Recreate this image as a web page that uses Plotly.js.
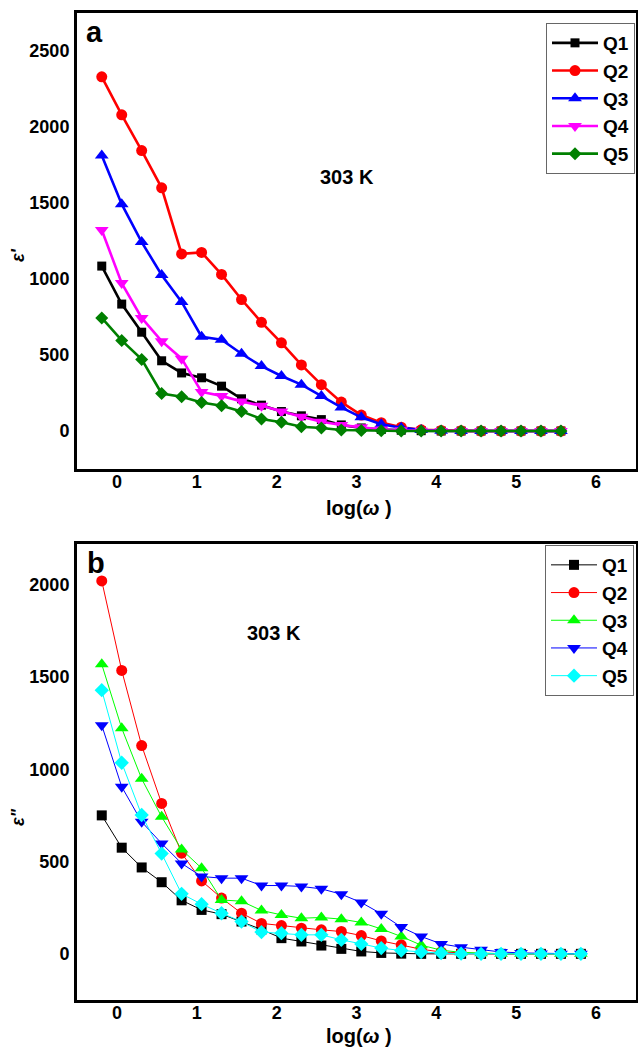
<!DOCTYPE html>
<html>
<head>
<meta charset="utf-8">
<script src="https://cdn.plot.ly/plotly-3.0.1.min.js"></script>
<style>
  html, body { margin: 0; padding: 0; background: #ffffff; }
  #chart { width: 638px; height: 1050px; }
</style>
</head>
<body>
<div id="chart"></div>
<script>
// Frequency axis, log(ω)
const logwA = [-0.19, 0.06, 0.31, 0.56, 0.81, 1.06, 1.31, 1.56, 1.81, 2.06, 2.31, 2.56,
               2.81, 3.06, 3.31, 3.56, 3.81, 4.06, 4.31, 4.56, 4.81, 5.06, 5.31, 5.56];
const logwB = [-0.19, 0.06, 0.31, 0.56, 0.81, 1.06, 1.31, 1.56, 1.81, 2.06, 2.31, 2.56,
               2.81, 3.06, 3.31, 3.56, 3.81, 4.06, 4.31, 4.56, 4.81, 5.06, 5.31, 5.56, 5.81];

const seriesNames = ['Q1', 'Q2', 'Q3', 'Q4', 'Q5'];

// (a) real part of permittivity, ε'
const epsRealQ1 = [1085, 835, 650, 462, 382, 350, 295, 212, 170, 128, 100, 75, 40, 20, 10, 5, 2, 0, 0, 0, 0, 0, 0, 0];
const epsRealQ2 = [2330, 2080, 1845, 1600, 1165, 1175, 1030, 865, 715, 580, 435, 305, 190, 105, 55, 25, 8, 3, 1, 0, 0, 0, 0, 0];
const epsRealQ3 = [1813, 1492, 1243, 1027, 849, 620, 600, 508, 427, 362, 305, 230, 155, 90, 45, 22, 6, 2, 0, 0, 0, 0, 0, 0];
const epsRealQ4 = [1322, 973, 744, 591, 476, 257, 231, 194, 166, 129, 94, 61, 39, 24, 10, 5, 2, 0, 0, 0, 0, 0, 0, 0];
const epsRealQ5 = [744, 596, 471, 247, 225, 188, 166, 129, 79, 57, 28, 20, 7, 3, 1, 0, 0, 0, 0, 0, 0, 0, 0, 0];

// (b) imaginary part of permittivity, ε"
const epsImagQ1 = [750, 575, 468, 388, 290, 238, 215, 175, 132, 85, 67, 45, 27, 13, 5, 1, 0, 0, 0, 0, 0, 0, 0, 0, 0];
const epsImagQ2 = [2020, 1535, 1128, 815, 545, 395, 302, 220, 165, 153, 139, 130, 121, 99, 70, 49, 25, 10, 4, 1, 0, 0, 0, 0, 0];
const epsImagQ3 = [1568, 1222, 948, 742, 565, 464, 292, 285, 235, 211, 193, 197, 188, 170, 135, 94, 47, 20, 8, 3, 1, 0, 0, 0, 0];
const epsImagQ4 = [1238, 905, 715, 598, 490, 419, 410, 410, 370, 370, 365, 352, 323, 278, 217, 145, 94, 54, 36, 22, 10, 5, 2, 0, 0];
const epsImagQ5 = [1428, 1035, 752, 543, 325, 269, 220, 175, 118, 112, 103, 103, 76, 54, 31, 18, 10, 4, 1, 0, 0, 0, 0, 0, 0];

const xTicks = [0, 1, 2, 3, 4, 5, 6];
const yTicksA = [0, 500, 1000, 1500, 2000, 2500];
const yTicksB = [0, 500, 1000, 1500, 2000];

const symbols = ['square', 'circle', 'triangle-up', 'triangle-down', 'diamond'];
const colorsA = ['#000000', '#ff0000', '#0000ff', '#ff00ff', '#008000'];
const colorsB = ['#000000', '#ff0000', '#00ff00', '#0000ff', '#00ffff'];
const sizesA = [9, 11, 12, 12, 10];
const sizesB = [10, 11, 12, 12, 11];

const W = 638, H = 1050;
const px = v => v / W;
const py = v => 1 - v / H;

const realSets = [epsRealQ1, epsRealQ2, epsRealQ3, epsRealQ4, epsRealQ5];
const imagSets = [epsImagQ1, epsImagQ2, epsImagQ3, epsImagQ4, epsImagQ5];

const traces = [];
realSets.forEach((ys, i) => {
  traces.push({
    x: logwA, y: ys, name: seriesNames[i], type: 'scatter', mode: 'lines+markers',
    xaxis: 'x', yaxis: 'y', legend: 'legend',
    line: { color: colorsA[i], width: 2.6 },
    marker: { symbol: symbols[i], size: sizesA[i], color: colorsA[i], line: { width: 0 } }
  });
});
imagSets.forEach((ys, i) => {
  traces.push({
    x: logwB, y: ys, name: seriesNames[i], type: 'scatter', mode: 'lines+markers',
    xaxis: 'x2', yaxis: 'y2', legend: 'legend2',
    line: { color: colorsB[i], width: 1 },
    marker: { symbol: symbols[i], size: sizesB[i], color: colorsB[i], line: { width: 0 } }
  });
});

const tickFont = { family: 'Liberation Sans, Arial, sans-serif', size: 18, color: '#000', weight: 'bold' };
const axisBase = {
  showline: true, linecolor: '#000', linewidth: 3, mirror: true,
  ticks: '', showgrid: false, zeroline: false, tickfont: tickFont, fixedrange: true
};

const labelFont = (size) => ({ family: 'Liberation Sans, Arial, sans-serif', size: size, color: '#000', weight: 'bold' });

const layout = {
  width: W, height: H,
  margin: { l: 0, r: 0, t: 0, b: 0 },
  paper_bgcolor: '#ffffff', plot_bgcolor: '#ffffff',
  showlegend: true,
  xaxis: Object.assign({}, axisBase, {
    domain: [px(77), px(636)], range: [-0.5, 6.5], tickvals: xTicks, anchor: 'y',
    ticklabelstandoff: -6
  }),
  yaxis: Object.assign({}, axisBase, {
    domain: [py(469), py(13)], range: [-250, 2750], tickvals: yTicksA, anchor: 'x',
    ticklabelstandoff: 1
  }),
  xaxis2: Object.assign({}, axisBase, {
    domain: [px(77), px(636)], range: [-0.5, 6.5], tickvals: xTicks, anchor: 'y2',
    ticklabelstandoff: -6
  }),
  yaxis2: Object.assign({}, axisBase, {
    domain: [py(1000), py(544)], range: [-250, 2220], tickvals: yTicksB, anchor: 'x2',
    ticklabelstandoff: 1
  }),
  legend: {
    x: px(635), xanchor: 'right', y: py(23), yanchor: 'top',
    bgcolor: '#ffffff', bordercolor: '#666', borderwidth: 1,
    font: labelFont(19), itemwidth: 46, tracegroupgap: 0
  },
  legend2: {
    x: px(634), xanchor: 'right', y: py(545), yanchor: 'top',
    bgcolor: '#ffffff', bordercolor: '#666', borderwidth: 1,
    font: labelFont(19), itemwidth: 46, tracegroupgap: 0
  },
  annotations: [
    { xref: 'paper', yref: 'paper', x: px(94), y: py(32), text: 'a', showarrow: false,
      font: labelFont(29), xanchor: 'center', yanchor: 'middle' },
    { xref: 'paper', yref: 'paper', x: px(96), y: py(563), text: 'b', showarrow: false,
      font: labelFont(29), xanchor: 'center', yanchor: 'middle' },
    { xref: 'paper', yref: 'paper', x: px(347), y: py(177), text: '303 K', showarrow: false,
      font: labelFont(20), xanchor: 'center', yanchor: 'middle' },
    { xref: 'paper', yref: 'paper', x: px(274), y: py(633), text: '303 K', showarrow: false,
      font: labelFont(20), xanchor: 'center', yanchor: 'middle' },
    { xref: 'paper', yref: 'paper', x: px(18), y: py(255), text: "<i>ε'</i>", showarrow: false,
      textangle: -90, font: labelFont(18), xanchor: 'center', yanchor: 'middle' },
    { xref: 'paper', yref: 'paper', x: px(18), y: py(817), text: '<i>ε"</i>', showarrow: false,
      textangle: -90, font: labelFont(18), xanchor: 'center', yanchor: 'middle' },
    { xref: 'paper', yref: 'paper', x: px(359), y: py(508), text: 'log(<i>ω</i> )', showarrow: false,
      font: labelFont(20), xanchor: 'center', yanchor: 'middle' },
    { xref: 'paper', yref: 'paper', x: px(359), y: py(1036), text: 'log(<i>ω</i> )', showarrow: false,
      font: labelFont(20), xanchor: 'center', yanchor: 'middle' }
  ]
};

Plotly.newPlot('chart', traces, layout, { staticPlot: true, displayModeBar: false });
</script>
</body>
</html>
